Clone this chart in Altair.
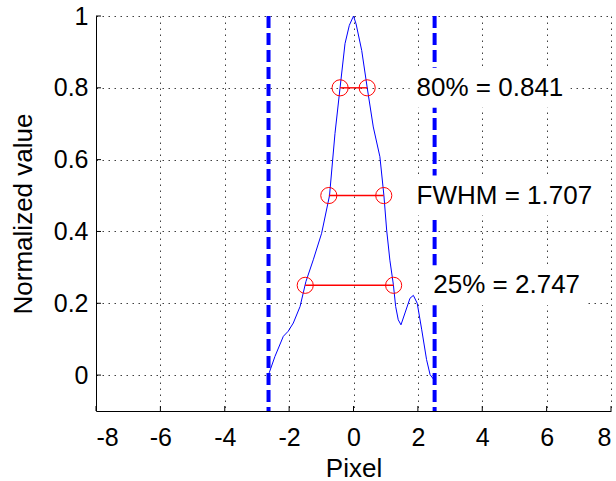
import altair as alt
import pandas as pd

# ---- data ----
curve_x = [-2.62, -2.44, -2.18, -2.03, -1.87, -1.66, -1.48, -1.25, -0.99, -0.745,
           -0.575, -0.42, -0.264, -0.13, -0.025, 0.0, 0.08, 0.255, 0.43, 0.615,
           0.82, 0.945, 1.03, 1.13, 1.237, 1.31, 1.39, 1.475, 1.60, 1.755,
           1.86, 1.98, 2.12, 2.27, 2.38, 2.50, 2.53]
curve_y = [0.006, 0.052, 0.108, 0.122, 0.145, 0.191, 0.26, 0.321, 0.395, 0.5,
           0.673, 0.798, 0.923, 0.974, 0.995, 1.0, 0.978, 0.904, 0.798, 0.691,
           0.608, 0.5, 0.404, 0.32, 0.253, 0.191, 0.154, 0.14, 0.173, 0.214,
           0.222, 0.20, 0.126, 0.043, 0.001, -0.013, -0.026]

levels = [0.8, 0.5, 0.25]
left_x = [-0.416, -0.767, -1.50]
right_x = [0.425, 0.940, 1.247]
label_text = ["80% = 0.841", "FWHM = 1.707", "25% = 2.747"]
label_x = [1.96, 1.96, 2.48]

bound_x = [-2.64, 2.52]

x_ticks = [-8, -6, -4, -2, 0, 2, 4, 6, 8]
y_ticks = [0, 0.2, 0.4, 0.6, 0.8, 1]

W, H = 515, 395
FONT = "Liberation Sans"
TEXT_SIZE = 26

# approximate Arial advance widths (em) to size the white text backgrounds
ADV = {"0": .556, "1": .556, "2": .556, "4": .556, "7": .556, "8": .556, "5": .556,
       ".": .278, " ": .278, "=": .584, "%": .889, "F": .611, "W": .944, "H": .722, "M": .833}
px_per_unit_x = W / 16.0
px_per_unit_y = H / 1.1


def text_w(s):
    return sum(ADV.get(c, .6) for c in s) * TEXT_SIZE / px_per_unit_x


pad_x = 7 / px_per_unit_x
half_h = 20 / px_per_unit_y

curve = pd.DataFrame({"x": curve_x, "y": curve_y, "i": range(len(curve_x))})
lev = pd.DataFrame({"y": levels, "xl": left_x, "xr": right_x,
                    "label": label_text, "lx": label_x})
lev["bx1"] = lev["lx"] - pad_x
lev["bx2"] = [lx + text_w(t) + pad_x for lx, t in zip(label_x, label_text)]
lev["by1"] = lev["y"] - half_h
lev["by2"] = lev["y"] + half_h
pts = pd.DataFrame({"x": left_x + right_x, "y": levels + levels})
bounds = pd.DataFrame({"x": bound_x})
xt = pd.DataFrame({"x": x_ticks})
yt = pd.DataFrame({"y": y_ticks})

xscale = alt.Scale(domain=[-8, 8], nice=False, zero=False)
yscale = alt.Scale(domain=[-0.1, 1], nice=False, zero=False)

xaxis = alt.Axis(values=x_ticks, title="Pixel", grid=True, ticks=False,
                 labelExpr="datum.value < 0 ? '-' + abs(datum.value) : '' + datum.value",
                 labelPadding=14, titlePadding=5)
yaxis = alt.Axis(values=y_ticks, title="Normalized value", grid=True, ticks=False,
                 labelExpr="format(datum.value, '~g')",
                 labelPadding=8, titlePadding=17)

base_curve = alt.Chart(curve).mark_line(color="#0000ff", strokeWidth=1).encode(
    x=alt.X("x:Q", scale=xscale, axis=xaxis),
    y=alt.Y("y:Q", scale=yscale, axis=yaxis),
    order="i:Q",
)

bound_lines = alt.Chart(bounds).mark_rule(
    color="#0000ff", strokeWidth=4, strokeDash=[12, 5]
).encode(x=alt.X("x:Q", scale=xscale), y=alt.value(0), y2=alt.value(H))

boxes = alt.Chart(lev).mark_rect(color="white", clip=True).encode(
    x=alt.X("bx1:Q", scale=xscale), x2="bx2:Q",
    y=alt.Y("by1:Q", scale=yscale), y2="by2:Q",
)

hlines = alt.Chart(lev).mark_rule(color="#ff0000", strokeWidth=1.4).encode(
    x=alt.X("xl:Q", scale=xscale), x2="xr:Q", y=alt.Y("y:Q", scale=yscale)
)

circles = alt.Chart(pts).mark_point(
    shape="circle", filled=False, color="#ff0000", size=260, strokeWidth=1, opacity=1
).encode(x=alt.X("x:Q", scale=xscale), y=alt.Y("y:Q", scale=yscale))

labels = alt.Chart(lev).mark_text(
    align="left", baseline="middle", font=FONT, fontSize=TEXT_SIZE, color="black"
).encode(x=alt.X("lx:Q", scale=xscale), y=alt.Y("y:Q", scale=yscale), text="label:N")

xticks = alt.Chart(xt).mark_rule(color="black", strokeWidth=1).encode(
    x=alt.X("x:Q", scale=xscale), y=alt.value(H), y2=alt.value(H - 5)
)
yticks = alt.Chart(yt).mark_rule(color="black", strokeWidth=1).encode(
    y=alt.Y("y:Q", scale=yscale), x=alt.value(0), x2=alt.value(5)
)

chart = alt.layer(base_curve, bound_lines, boxes, hlines, circles, labels,
                  xticks, yticks).properties(
    width=W, height=H,
    autosize=alt.AutoSizeParams(type="none"),
    padding={"left": 96, "top": 16, "right": 5, "bottom": 70},
    background="white",
).configure_view(stroke=None).configure_axis(
    domainColor="black", domainWidth=1,
    gridColor="#000000", gridOpacity=0.75, gridDash=[1.5, 4.5], gridWidth=1,
    labelFont=FONT, labelFontSize=25, labelColor="black",
    titleFont=FONT, titleFontSize=26, titleColor="black", titleFontWeight="normal",
)

chart.save("out.html", embed_options={"renderer": "svg", "actions": False})
